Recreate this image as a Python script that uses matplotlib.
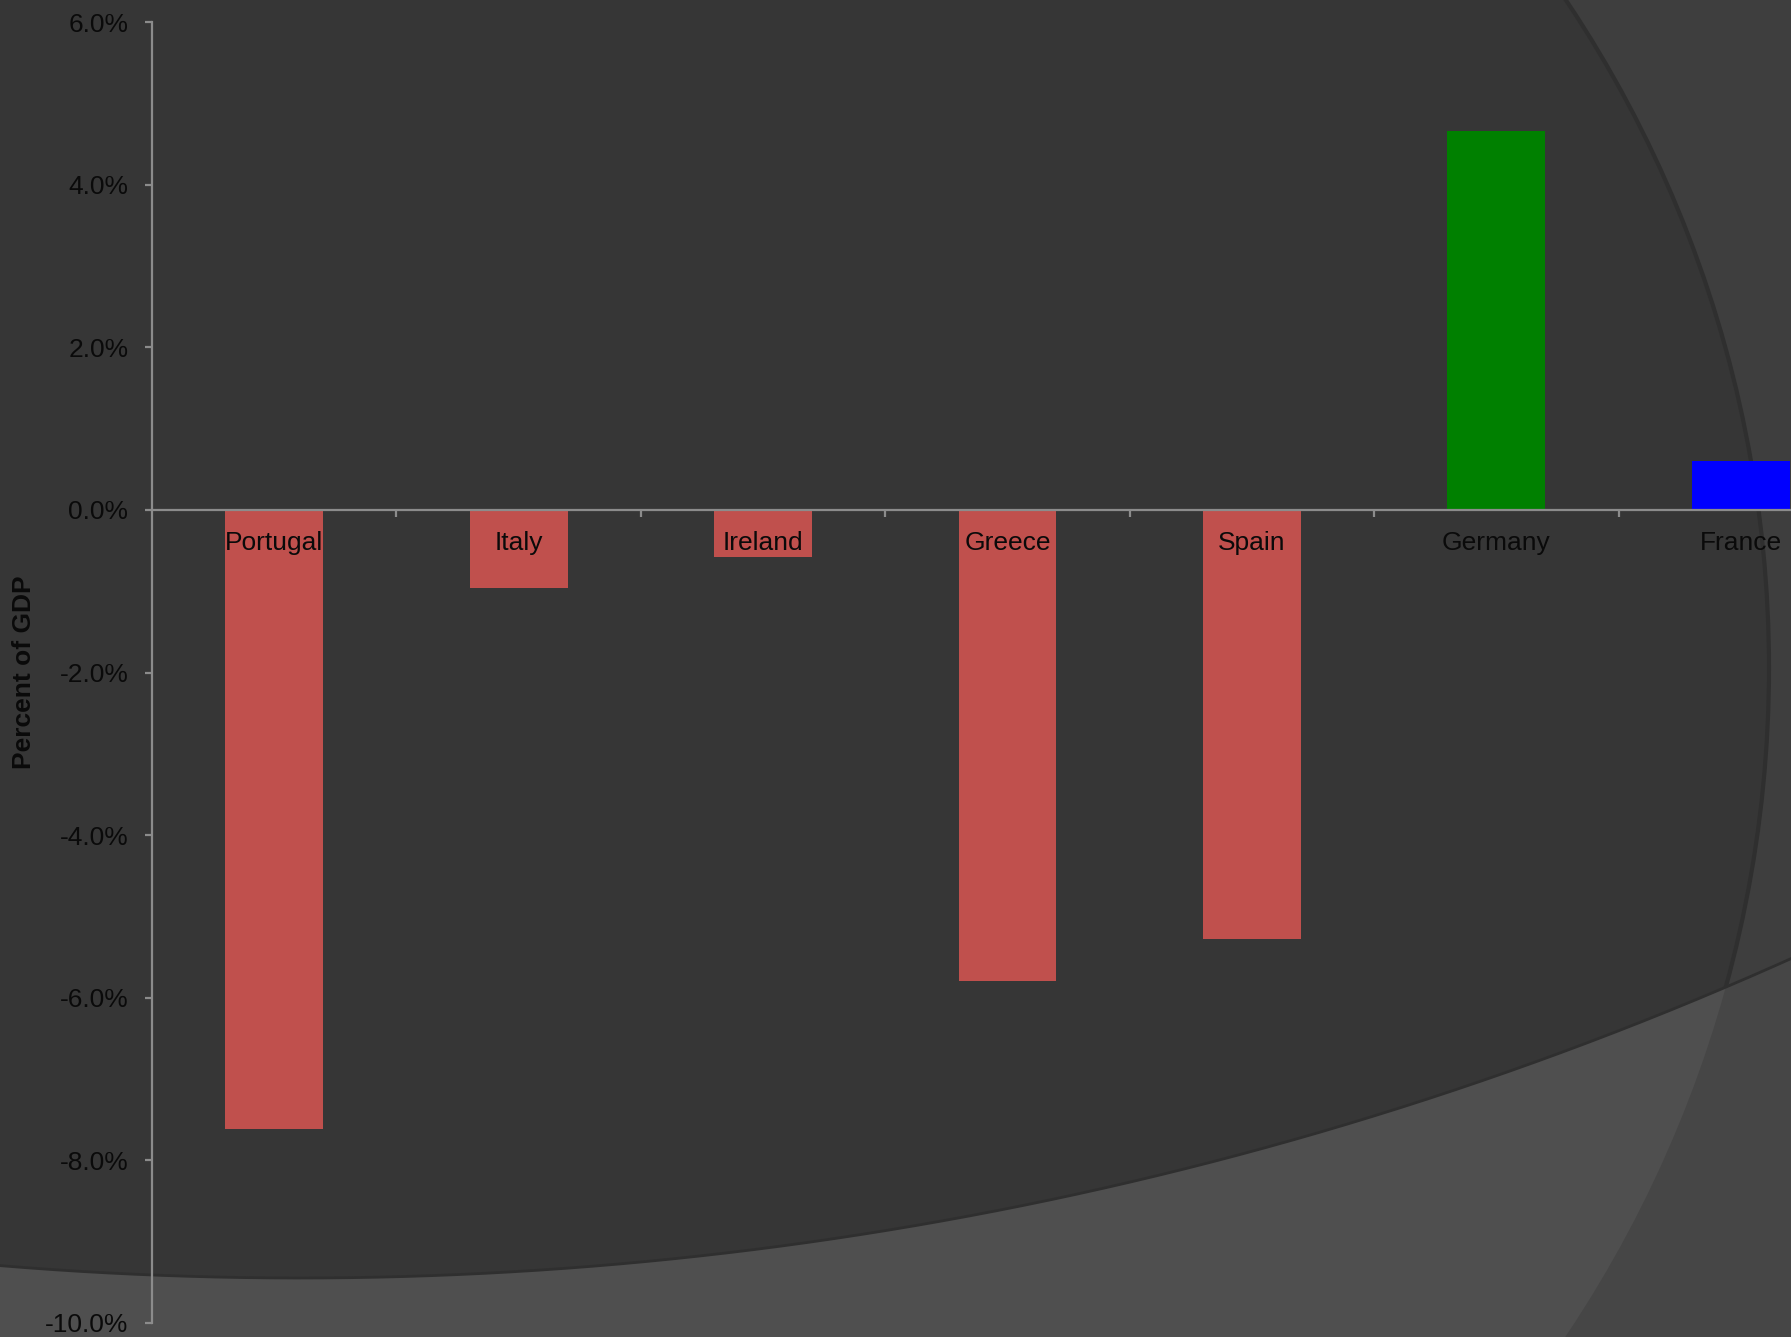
import numpy as np
import matplotlib.pyplot as plt
from matplotlib.patches import Circle, Rectangle
from matplotlib.ticker import FuncFormatter, FixedLocator

# current account balance, percent of GDP
countries = ["Portugal", "Italy", "Ireland", "Greece", "Spain", "Germany", "France"]
values = [-7.62, -0.96, -0.58, -5.8, -5.28, 4.66, 0.6]
colors = ["#C0504D", "#C0504D", "#C0504D", "#C0504D", "#C0504D", "#008000", "#0000FF"]

plt.rcParams['font.family'] = ['Liberation Sans', 'DejaVu Sans']

W, H = 1791, 1337
fig = plt.figure(figsize=(W / 100, H / 100), dpi=100)
fig.patch.set_facecolor('#363636')

# slide background decoration, drawn in pixel space
bg = fig.add_axes([0, 0, 1, 1], zorder=0)
bg.set_xlim(0, W)
bg.set_ylim(H, 0)
bg.axis('off')
bg.add_patch(Rectangle((0, 0), W, H, color='#3e3e3e', zorder=0))
arc = Circle((569, 668), 1200, facecolor='#363636', edgecolor='#2f2f2f', lw=3, zorder=1)
bg.add_patch(arc)

# lower band below a very large circle
cx, cy, r = 300, 1278 - 3640, 3640
bx = np.linspace(0, W, 400)
by = cy + np.sqrt(r ** 2 - (bx - cx) ** 2)
poly_x = np.concatenate([bx, [W, 0]])
poly_y = np.concatenate([by, [H, H]])
bg.fill(poly_x, poly_y, color='#464646', zorder=3)
inner = bg.fill(poly_x, poly_y, color='#4f4f4f', zorder=4)[0]
inner.set_clip_path(Circle((569, 668), 1200, transform=bg.transData))
bg.plot(bx, by, color='#2f2f2f', lw=2, zorder=5)

ax = fig.add_axes([152 / W, 14 / H, 1711 / W, 1301 / H], zorder=2)
ax.patch.set_alpha(0)

x = range(len(countries))
ax.bar(x, values, width=0.4, color=colors, zorder=1)

ax.set_xlim(-0.5, len(countries) - 0.5)
ax.set_ylim(-10, 6)
ax.set_yticks(np.arange(-10, 7, 2))
ax.yaxis.set_major_formatter(FuncFormatter(lambda v, p: f"{v:.1f}%"))

ax.set_xticks(list(x))
ax.set_xticklabels(countries)
ax.xaxis.set_minor_locator(FixedLocator([i + 0.5 for i in range(len(countries) - 1)]))

for s in ['top', 'right']:
    ax.spines[s].set_visible(False)
ax.spines['bottom'].set_position(('data', 0))
for s in ['left', 'bottom']:
    ax.spines[s].set_color('#8c8c8c')
    ax.spines[s].set_linewidth(1.6)

ax.tick_params(axis='y', length=5, width=1.6, color='#8c8c8c', pad=12,
               labelsize=19, labelcolor='#0a0a0a')
ax.tick_params(axis='x', which='major', length=0, pad=15.5,
               labelsize=19, labelcolor='#0a0a0a')
ax.tick_params(axis='x', which='minor', length=5, width=1.6, color='#8c8c8c')

ax.set_ylabel('Percent of GDP', fontsize=19, fontweight='bold', color='#0a0a0a')
ax.yaxis.set_label_coords(-0.068, 0.5)

fig.savefig('out.png', dpi=100, facecolor=fig.get_facecolor())
